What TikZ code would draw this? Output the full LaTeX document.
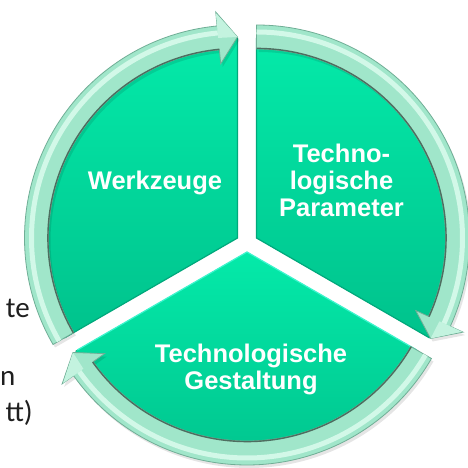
\documentclass[tikz,border=0pt]{standalone}
\usepackage{fontspec}
\setmainfont{Liberation Sans}
\newfontfamily\sidefont{Carlito}

\definecolor{wedgetop}{HTML}{04EAA9}
\definecolor{wedgebot}{HTML}{00C28C}
\definecolor{mint}{HTML}{A0E6CA}
\definecolor{minthi}{HTML}{D2F8E8}
\definecolor{mintdark}{HTML}{70AE96}
\definecolor{rimshadow}{HTML}{4E6E60}
\definecolor{edgedark}{HTML}{00A97C}
\definecolor{edgelight}{HTML}{3CF6CE}

\tikzset{
  lbl/.style={text=white, font=\bfseries\fontsize{25.5}{26.8}\selectfont,
    align=center, inner sep=0pt},
  sidetxt/.style={text=black!88, font=\sidefont\fontsize{29}{32}\selectfont,
    inner sep=0pt, anchor=base east},
  wedgefill/.style={top color=wedgetop, bottom color=wedgebot},
}

% curved cycle arrow in the local frame of a wedge:
% #1 = tail angle, #2 = tip angle, travelling clockwise
\newcommand\cyclearrow[2]{%
  \path[fill=black, opacity=0.10, shift={(2,-3)}]
    (#1:189) arc[start angle=#1, end angle=#2+5.5, radius=189]
    -- (#2+5.5:175) -- (#2:201) -- (#2+5.5:227) -- (#2+5.5:213)
    arc[start angle=#2+5.5, end angle=#1, radius=213] -- cycle;
  \path[fill=mint, draw=mintdark, line width=0.8pt]
    (#1:189) arc[start angle=#1, end angle=#2+5.5, radius=189]
    -- (#2+5.5:175) -- (#2:201) -- (#2+5.5:227) -- (#2+5.5:213)
    arc[start angle=#2+5.5, end angle=#1, radius=213] -- cycle;
  \draw[minthi, line width=5pt]
    (#1:206) arc[start angle=#1, end angle=#2+5.5, radius=206];
  \fill[minthi!70!mint] (#2:201) -- (#2+5.5:226) -- (#2+5.5:201) -- cycle;
  \draw[rimshadow, line width=1.4pt]
    (#1:189.6) arc[start angle=#1, end angle=#2+5.5, radius=189.6];
}

\begin{document}
\begin{tikzpicture}[x=1pt, y=1pt]
\useasboundingbox (0,0) rectangle (468,468);
\clip (0,0) rectangle (468,468);
\fill[white] (0,0) rectangle (468,468);

% text running in from the left margin
\node[sidetxt] (frag1) at (30,150) {te};
\node[sidetxt] (frag2) at (15.5,82) {n};
\node[sidetxt] (frag3) at (33,46) {tt)};

% upper left wedge
\begin{scope}[shift={(237.5,230)}]
  \fill[wedgefill] (0,0) -- (90:200) arc[start angle=90, end angle=210, radius=200] -- cycle;
  \draw[edgedark, line width=1.2pt] (90:200) -- (0,0) -- (210:200);
  \cyclearrow{210}{90}
\end{scope}

% upper right wedge
\begin{scope}[shift={(256.5,230)}]
  \fill[wedgefill] (0,0) -- (-30:200) arc[start angle=-30, end angle=90, radius=200] -- cycle;
  \draw[edgedark, line width=1.2pt] (90:200) -- (0,0) -- (-30:200);
  \cyclearrow{90}{-30}
\end{scope}

% lower wedge
\begin{scope}[shift={(247,216)}]
  \fill[wedgefill] (0,0) -- (210:198) arc[start angle=210, end angle=330, radius=198] -- cycle;
  \draw[edgelight, line width=1.2pt] (210:196) -- (0,0) -- (330:196);
  \cyclearrow{330}{210}
\end{scope}

% labels
\node[lbl] (werk) at (155,285.5) {Werkzeuge};
\node[lbl] (param) at (341.5,287.6) {Techno-\\logische\\Parameter};
\node[lbl] (gest) at (251,98.3) {Technologische\\Gestaltung};
\end{tikzpicture}
\end{document}
